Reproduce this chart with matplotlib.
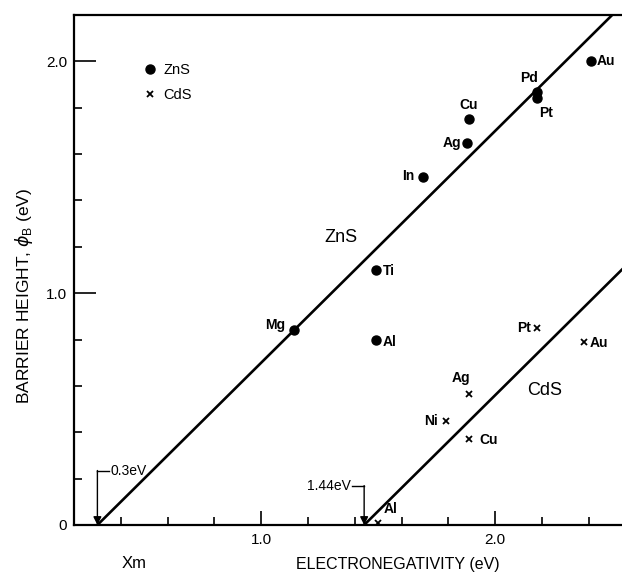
import matplotlib
matplotlib.use("Agg")
import matplotlib.pyplot as plt

plt.rcParams["font.family"] = ["Liberation Sans", "DejaVu Sans"]

# ZnS barrier heights (dots)
ZNS_METALS = ["Mg", "Ti", "Al", "In", "Ag", "Cu", "Pd", "Pt", "Au"]
ZNS_X = [1.14, 1.49, 1.49, 1.69, 1.88, 1.89, 2.18, 2.18, 2.41]
ZNS_Y = [0.84, 1.10, 0.80, 1.50, 1.65, 1.75, 1.87, 1.84, 2.00]

# CdS barrier heights (crosses)
CDS_METALS = ["Al", "Ni", "Cu", "Ag", "Pt", "Au"]
CDS_X = [1.50, 1.79, 1.89, 1.89, 2.18, 2.38]
CDS_Y = [0.01, 0.45, 0.37, 0.565, 0.85, 0.79]

# fitted lines
ZNS_LINE_X = [0.30, 2.50]
ZNS_LINE_Y = [0.00, 2.20]
CDS_LINE_X = [1.44, 2.56]
CDS_LINE_Y = [0.00, 1.12]

# label offsets in pixels (dx, dy, ha)
ZNS_LABEL_OFF = {
    "Mg": (-9, 5, "right"), "Ti": (7, -1, "left"), "Al": (7, -2, "left"),
    "In": (-8, 1, "right"), "Ag": (-6, 0, "right"), "Cu": (-1, 14, "center"),
    "Pd": (-8, 14, "center"), "Pt": (2, -15, "left"), "Au": (6, 0, "left"),
}
CDS_LABEL_OFF = {
    "Al": (5, 14, "left"), "Ni": (-8, 0, "right"), "Cu": (10, -1, "left"),
    "Ag": (-8, 16, "center"), "Pt": (-6, 0, "right"), "Au": (6, -1, "left"),
}

PX = 0.72  # points per pixel at dpi 100

fig = plt.figure(figsize=(6.22, 5.76), dpi=100)
ax = fig.add_axes([74 / 622, 51 / 576, 548 / 622, 510 / 576])

ax.plot(ZNS_LINE_X, ZNS_LINE_Y, color="black", lw=1.9, solid_capstyle="butt")
ax.plot(CDS_LINE_X, CDS_LINE_Y, color="black", lw=1.9, solid_capstyle="butt")

ax.plot(ZNS_X, ZNS_Y, "o", color="black", ms=6.5, label="ZnS")
ax.plot(CDS_X, CDS_Y, "x", color="black", ms=4.5, mew=1.3, label="CdS")

for name, x, y in zip(ZNS_METALS, ZNS_X, ZNS_Y):
    dx, dy, ha = ZNS_LABEL_OFF[name]
    ax.annotate(name, (x, y), xytext=(dx * PX, dy * PX), textcoords="offset points",
                ha=ha, va="center", fontsize=10, fontweight="bold")
for name, x, y in zip(CDS_METALS, CDS_X, CDS_Y):
    dx, dy, ha = CDS_LABEL_OFF[name]
    ax.annotate(name, (x, y), xytext=(dx * PX, dy * PX), textcoords="offset points",
                ha=ha, va="center", fontsize=10, fontweight="bold")

ax.text(1.34, 1.24, "ZnS", fontsize=13, ha="center", va="center")
ax.text(2.21, 0.58, "CdS", fontsize=13, ha="center", va="center")

# intercept markers
ax.annotate("", xy=(0.30, 0.0), xytext=(0.30, 0.235),
            arrowprops=dict(arrowstyle="-|>", color="black", lw=1.0,
                            mutation_scale=12, shrinkA=0, shrinkB=0))
ax.plot([0.30, 0.35], [0.235, 0.235], color="black", lw=1.0)
ax.text(0.355, 0.235, "0.3eV", fontsize=10, ha="left", va="center")

ax.annotate("", xy=(1.44, 0.0), xytext=(1.44, 0.17),
            arrowprops=dict(arrowstyle="-|>", color="black", lw=1.0,
                            mutation_scale=12, shrinkA=0, shrinkB=0))
ax.plot([1.39, 1.44], [0.17, 0.17], color="black", lw=1.0)
ax.text(1.385, 0.17, "1.44eV", fontsize=10, ha="right", va="center")

ax.set_xlim(0.2, 2.542)
ax.set_ylim(0, 2.2)

ax.set_xticks([1.0, 2.0])
ax.set_xticklabels(["1.0", "2.0"])
ax.set_xticks([0.4, 0.6, 0.8, 1.2, 1.4, 1.6, 1.8, 2.2, 2.4], minor=True)
ax.set_yticks([0, 1.0, 2.0])
ax.set_yticklabels(["0", "1.0", "2.0"])
ax.set_yticks([0.2, 0.4, 0.6, 0.8, 1.2, 1.4, 1.6, 1.8], minor=True)

ax.tick_params(axis="both", which="both", direction="in", width=1.2, labelsize=11)
ax.tick_params(axis="x", which="major", length=10, pad=6)
ax.tick_params(axis="x", which="minor", length=6)
ax.tick_params(axis="y", which="major", length=16, pad=5)
ax.tick_params(axis="y", which="minor", length=6)

for side in ["left", "bottom", "top"]:
    ax.spines[side].set_linewidth(1.6)
ax.spines["right"].set_visible(False)

ax.set_ylabel(r"BARRIER HEIGHT, $\phi_{\mathregular{B}}$ (eV)", fontsize=12.5)
ax.yaxis.set_label_coords(-0.071, 0.45)
ax.set_xlabel("ELECTRONEGATIVITY (eV)", fontsize=11.5, va="center")
ax.xaxis.set_label_coords((398 - 74) / 548, -39 / 510)
fig.text(134 / 622, 1 - 564 / 576, "Xm", fontsize=12, ha="center", va="center")

ax.legend(loc="upper left", bbox_to_anchor=(0.126, 0.905), frameon=False,
          fontsize=10.5, handlelength=1.0, handletextpad=0.4, labelspacing=0.7,
          borderpad=0, borderaxespad=0, numpoints=1)

fig.savefig("out.png", dpi=100)
